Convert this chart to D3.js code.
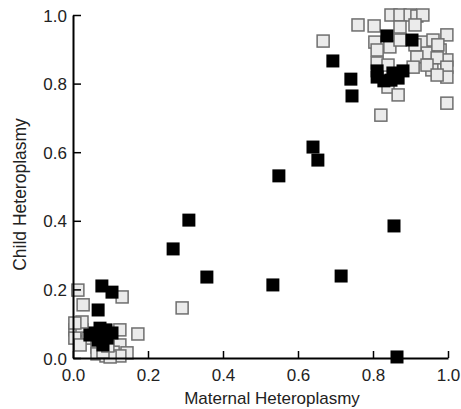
<!DOCTYPE html>
<html>
<head>
<meta charset="utf-8">
<script src="https://cdn.jsdelivr.net/npm/d3@7"></script>
<style>
  body { margin: 0; background: #fff; }
  text { font-family: "Liberation Sans", Arial, sans-serif; }
</style>
</head>
<body>
<div class="chart"></div>
<script>
// maternal vs child heteroplasmy, filled = one group, open = the other
const filledMaternal = [0.640, 0.653, 0.549, 0.309, 0.856, 0.357, 0.533, 0.715, 0.267, 0.077, 0.104, 0.067, 0.864,
  0.693, 0.741, 0.744, 0.837, 0.904, 0.811, 0.829, 0.848, 0.867, 0.880, 0.811, 0.853,
  0.059, 0.072, 0.088, 0.104, 0.067, 0.091, 0.045, 0.083, 0.080];
const filledChild = [0.615, 0.577, 0.531, 0.402, 0.385, 0.236, 0.213, 0.239, 0.318, 0.210, 0.192, 0.140, 0.003,
  0.866, 0.813, 0.764, 0.939, 0.927, 0.819, 0.808, 0.810, 0.816, 0.837, 0.837, 0.831,
  0.073, 0.087, 0.082, 0.073, 0.052, 0.058, 0.067, 0.064, 0.038];

const openMaternal = [0.667, 0.760, 0.803, 0.848, 0.872, 0.899, 0.917, 0.933, 0.872, 0.912, 0.805, 0.845, 0.811,
  0.872, 0.933, 0.960, 0.997, 0.944, 0.917, 0.979, 0.997, 0.971, 0.811, 0.840, 0.907, 0.957, 0.997, 0.944,
  0.997, 0.971, 0.840, 0.867, 0.997, 0.821, 0.973, 0.912,
  0.013, 0.027, 0.131, 0.291, 0.173, 0.125, 0.125, 0.005, 0.024, 0.005, 0.024, 0.005, 0.040, 0.064, 0.085,
  0.064, 0.107, 0.144, 0.125, 0.088, 0.099, 0.080, 0.093, 0.019];
const openChild = [0.924, 0.971, 0.968, 1.000, 1.000, 1.000, 0.997, 1.000, 0.965, 0.971, 0.921, 0.907, 0.898,
  0.927, 0.921, 0.927, 0.942, 0.889, 0.878, 0.898, 0.869, 0.875, 0.860, 0.854, 0.848, 0.840, 0.848, 0.854,
  0.819, 0.825, 0.790, 0.767, 0.743, 0.708, 0.913, 0.913,
  0.198, 0.155, 0.178, 0.146, 0.070, 0.082, 0.038, 0.082, 0.082, 0.058, 0.105, 0.102, 0.058, 0.032, 0.023,
  0.012, 0.017, 0.015, 0.006, 0.006, 0.003, 0.017, 0.035, 0.038];

const tickValues = [0, 0.2, 0.4, 0.6, 0.8, 1.0];
const xTitle = "Maternal Heteroplasmy";
const yTitle = "Child Heteroplasmy";

const width = 461, height = 409;
const margin = {left: 73, right: 13, top: 15, bottom: 51};

var svg = d3.select(".chart")
            .append("svg")
            .attr("width", width)
            .attr("height", height);

var x = d3.scaleLinear().domain([0, 1]).range([margin.left, width - margin.right]);
var y = d3.scaleLinear().domain([0, 1]).range([height - margin.bottom, margin.top]);

// open squares first, filled on top
const openData = openMaternal.map((m, i) => [m, openChild[i]]);
const filledData = filledMaternal.map((m, i) => [m, filledChild[i]]);

const so = 12, sf = 13;
svg.append("g").selectAll("rect").data(openData).enter().append("rect")
  .attr("x", d => x(d[0]) - so / 2)
  .attr("y", d => y(d[1]) - so / 2)
  .attr("width", so).attr("height", so)
  .attr("fill", "#ebebeb")
  .attr("stroke", "#6e6e6e")
  .attr("stroke-width", 1.5);

svg.append("g").selectAll("rect").data(filledData).enter().append("rect")
  .attr("x", d => x(d[0]) - sf / 2)
  .attr("y", d => y(d[1]) - sf / 2)
  .attr("width", sf).attr("height", sf)
  .attr("fill", "#000");

//** axes, ticks pointing inward */
var xAxis = d3.axisBottom(x).tickValues(tickValues).tickFormat(d3.format(".1f"))
  .tickSizeInner(-7).tickSizeOuter(0).tickPadding(11);
var yAxis = d3.axisLeft(y).tickValues(tickValues).tickFormat(d3.format(".1f"))
  .tickSizeInner(-8).tickSizeOuter(0).tickPadding(6);

var gx = svg.append("g").attr("transform", `translate(0,${y(0)})`).call(xAxis);
var gy = svg.append("g").attr("transform", `translate(${x(0)},0)`).call(yAxis);

[gx, gy].forEach(g => {
  g.select(".domain").attr("stroke", "#000").attr("stroke-width", 2);
  g.selectAll(".tick line").attr("stroke", "#000").attr("stroke-width", 1.5);
  g.selectAll(".tick text").attr("font-size", 17).attr("fill", "#222")
    .style("font-family", "'Liberation Sans', Arial, sans-serif");
});
gy.selectAll(".tick text").attr("dy", "0.36em");

svg.append("text")
  .attr("x", 272).attr("y", 404)
  .attr("text-anchor", "middle")
  .attr("font-size", 17).attr("fill", "#222")
  .text(xTitle);

svg.append("text")
  .attr("transform", `translate(26,${(y(0) + y(1)) / 2 + 8}) rotate(-90)`)
  .attr("text-anchor", "middle")
  .attr("font-size", 17.5).attr("fill", "#222")
  .text(yTitle);
</script>
</body>
</html>
